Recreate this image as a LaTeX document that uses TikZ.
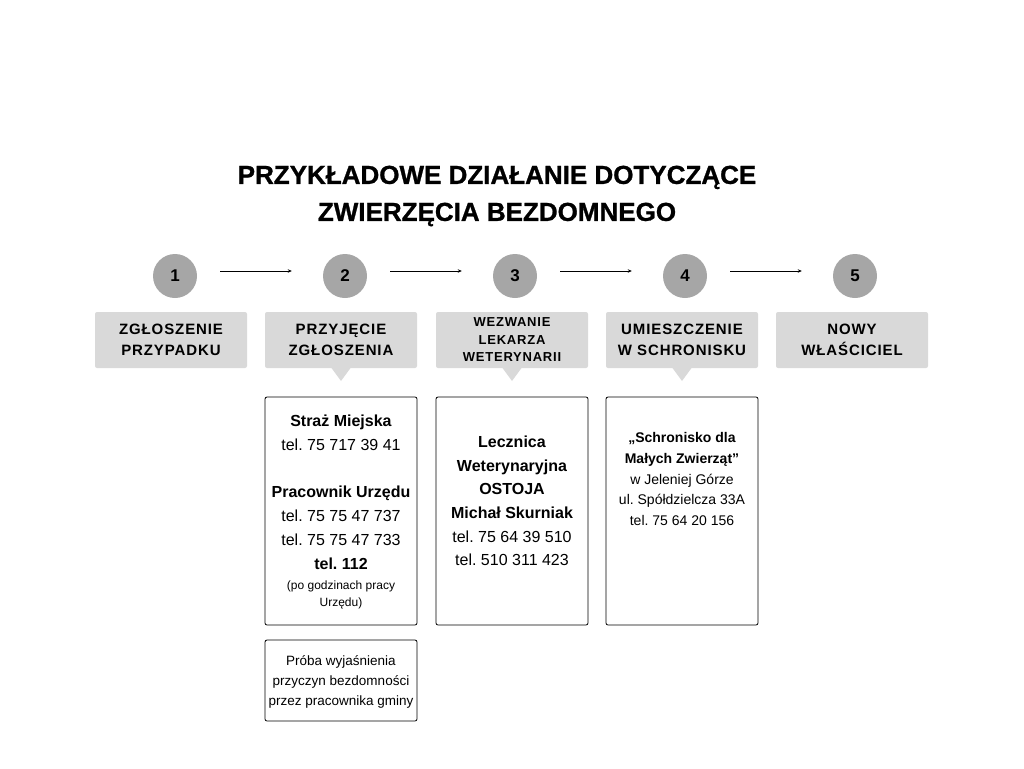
\documentclass[tikz,border=0pt]{standalone}
\usepackage{fontspec}
\setmainfont{Liberation Sans}
\newfontfamily\titlefont[FakeBold=1]{Liberation Sans}
\newfontfamily\capsfont[LetterSpace=6]{Liberation Sans}
\usetikzlibrary{arrows.meta,calc}
\definecolor{circgray}{HTML}{A6A6A6}
\definecolor{boxgray}{HTML}{D9D9D9}
\tikzset{
  numcirc/.style={circle,fill=circgray,minimum size=44pt,inner sep=0pt,font=\bfseries\fontsize{17}{17}\selectfont},
  stepbox/.style={rectangle,rounded corners=2pt,fill=boxgray,minimum width=152pt,minimum height=56pt,inner sep=0pt,align=center,font=\capsfont\bfseries\fontsize{15}{21}\selectfont},
  infobox/.style={rectangle,rounded corners=2pt,draw=black,line width=0.8pt,minimum width=152pt,inner sep=0pt},
  flowarr/.style={-{Stealth[length=4pt,width=3.5pt]},line width=0.8pt,shorten <=23pt,shorten >=31pt},
  pointer/.style={fill=boxgray},
  txt/.style={align=center,inner sep=0pt,font=\fontsize{16}{23.7}\selectfont}
}
\begin{document}
\frenchspacing
\begin{tikzpicture}[x=1pt,y=-1pt]
\useasboundingbox (0,0) rectangle (1024,768);
% title
\node[font=\titlefont\bfseries\fontsize{26}{37}\selectfont,align=center,inner sep=0pt] (title) at (497,196)
  {PRZYKŁADOWE DZIAŁANIE DOTYCZĄCE\\ZWIERZĘCIA BEZDOMNEGO};
% circles
\foreach \i/\x in {1/175,2/345,3/515,4/685,5/855}{
  \node[numcirc] (c\i) at (\x,276) {\i};
}
\foreach \a/\b in {1/2,2/3,3/4,4/5}{
  \draw[flowarr] ([yshift=5pt]c\a.east) -- ([yshift=5pt]c\b.west);
}
% pointers
\foreach \x in {341,512,682}{
  \fill[pointer] (\x-11,366) -- (\x,381) -- (\x+11,366) -- cycle;
}
% step boxes
\node[stepbox] (s1) at (171,340) {ZGŁOSZENIE\\PRZYPADKU};
\node[stepbox] (s2) at (341,340) {PRZYJĘCIE\\ZGŁOSZENIA};
\node[stepbox,font=\capsfont\bfseries\fontsize{13}{17.5}\selectfont] (s3) at (512,340) {WEZWANIE\\LEKARZA\\WETERYNARII};
\node[stepbox] (s4) at (682,340) {UMIESZCZENIE\\W SCHRONISKU};
\node[stepbox] (s5) at (852,340) {NOWY\\WŁAŚCICIEL};
% info boxes
\node[infobox,minimum height=228pt] (b1) at (341,511) {};
\node[infobox,minimum height=228pt] (b2) at (512,511) {};
\node[infobox,minimum height=228pt] (b3) at (682,511) {};
\node[infobox,minimum height=81pt] (b4) at (341,680.5) {};
% texts box 1
\node[txt,anchor=north] (t1) at (341,415) {\textbf{Straż Miejska}\\tel. 75 717 39 41\\[23.7pt]\textbf{Pracownik Urzędu}\\tel. 75 75 47 737\\tel. 75 75 47 733\\\textbf{tel. 112}};
\node[txt,anchor=north,font=\fontsize{12}{17}\selectfont] (t1b) at (341,581) {(po godzinach pracy\\Urzędu)};
% box 2
\node[txt] (t2) at (512,501) {\textbf{Lecznica}\\\textbf{Weterynaryjna}\\\textbf{OSTOJA}\\\textbf{Michał Skurniak}\\tel. 75 64 39 510\\tel. 510 311 423};
% box 3
\node[txt,font=\fontsize{14}{20.8}\selectfont] (t3) at (682,479) {\textbf{„Schronisko dla}\\\textbf{Małych Zwierząt”}\\w Jeleniej Górze\\ul. Spółdzielcza 33A\\tel. 75 64 20 156};
% box 4
\node[txt,font=\fontsize{13.5}{20}\selectfont] (t4) at (341,682) {Próba wyjaśnienia\\przyczyn bezdomności\\przez pracownika gminy};
\end{tikzpicture}
\end{document}
